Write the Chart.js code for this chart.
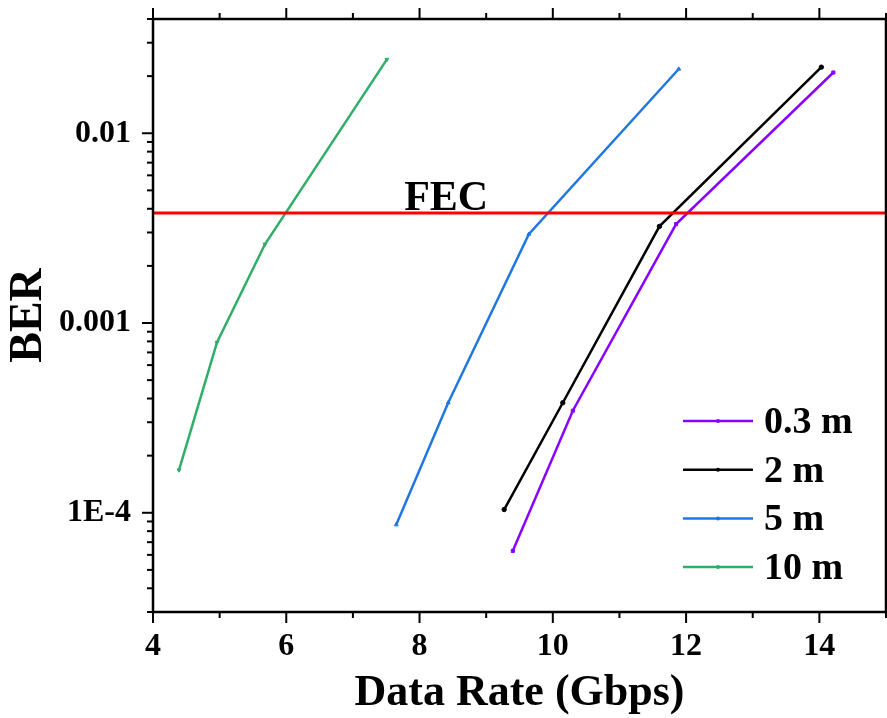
<!DOCTYPE html>
<html>
<head>
<meta charset="utf-8">
<script src="https://cdn.jsdelivr.net/npm/chart.js@4.4.1/dist/chart.umd.min.js"></script>
<style>
  html, body { margin: 0; padding: 0; background: #ffffff; }
  #wrap { width: 887px; height: 718px; position: relative; }
</style>
</head>
<body>
<div id="wrap"><canvas id="ber"></canvas></div>
<script>
// Link lengths shown in the legend
const distances = ['0.3 m', '2 m', '5 m', '10 m'];

// Data rate (Gbps) and measured BER per link length
const rate_03m = [9.40, 10.30, 11.85, 14.21];
const ber_03m  = [6.3e-5, 3.45e-4, 3.32e-3, 2.09e-2];

const rate_2m  = [9.27, 10.15, 11.60, 14.03];
const ber_2m   = [1.04e-4, 3.8e-4, 3.23e-3, 2.23e-2];

const rate_5m  = [7.65, 8.43, 9.64, 11.89];
const ber_5m   = [8.65e-5, 3.8e-4, 2.94e-3, 2.18e-2];

const rate_10m = [4.39, 4.96, 5.68, 7.51];
const ber_10m  = [1.68e-4, 7.9e-4, 2.6e-3, 2.45e-2];

// Forward error correction threshold
const fecLimit = 3.8e-3;
const fecText = 'FEC';

// Axis ticks
const xTickValues = [4, 6, 8, 10, 12, 14];
const yTickValues = [1e-4, 1e-3, 1e-2];
const yTickLabels = ['1E-4', '0.001', '0.01'];

const SERIF = "'Liberation Serif', 'Times New Roman', serif";
const colors = ['#8a00ff', '#000000', '#1f78e0', '#2fae68'];
const markers = [
  { style: 'rect', rot: 0 },
  { style: 'circle', rot: 0 },
  { style: 'triangle', rot: 0 },
  { style: 'triangle', rot: 180 }
];

function pairs(xs, ys) { return xs.map((x, i) => ({ x: x, y: ys[i] })); }

const seriesData = [
  pairs(rate_03m, ber_03m),
  pairs(rate_2m, ber_2m),
  pairs(rate_5m, ber_5m),
  pairs(rate_10m, ber_10m)
];

const datasets = seriesData.map((d, i) => ({
  label: distances[i],
  data: d,
  borderColor: colors[i],
  backgroundColor: colors[i],
  borderWidth: 2.5,
  pointStyle: markers[i].style,
  pointRotation: markers[i].rot,
  pointRadius: 2.2,
  pointBorderWidth: 1,
  tension: 0,
  order: 1
}));

// FEC threshold across the full rate range
datasets.push({
  label: fecText,
  isThreshold: true,
  data: [{ x: 4, y: fecLimit }, { x: 15, y: fecLimit }],
  borderColor: '#ff0000',
  borderWidth: 3,
  pointRadius: 0,
  order: 0
});

// Frame, outward tick marks, FEC label and legend
const framePlugin = {
  id: 'frame',
  afterDraw(chart) {
    const { ctx, chartArea: a, scales: { x, y } } = chart;
    ctx.save();
    ctx.strokeStyle = '#000';
    ctx.lineWidth = 2.5;
    ctx.strokeRect(a.left, a.top, a.right - a.left, a.bottom - a.top);

    ctx.lineWidth = 2;
    const MAJ = 11, MIN = 6;
    // x ticks: bottom and top, majors at labelled values, minors between
    for (let v = x.min; v <= x.max; v += 1) {
      const px = x.getPixelForValue(v);
      const len = xTickValues.includes(v) ? MAJ : MIN;
      ctx.beginPath();
      ctx.moveTo(px, a.bottom); ctx.lineTo(px, a.bottom + len);
      ctx.moveTo(px, a.top); ctx.lineTo(px, a.top - len);
      ctx.stroke();
    }
    // y ticks on the left: decades plus 2..9 subdivisions
    const lo = Math.floor(Math.log10(y.min)), hi = Math.ceil(Math.log10(y.max));
    for (let e = lo; e <= hi; e++) {
      for (let m = 1; m <= 9; m++) {
        const v = m * Math.pow(10, e);
        if (v < y.min * 0.999 || v > y.max * 1.001) continue;
        const py = y.getPixelForValue(v);
        const len = m === 1 ? MAJ : MIN;
        ctx.beginPath();
        ctx.moveTo(a.left, py); ctx.lineTo(a.left - len, py);
        ctx.stroke();
      }
    }

    // FEC label above the threshold line
    const fy = y.getPixelForValue(fecLimit);
    ctx.fillStyle = '#000';
    ctx.font = 'bold 42px ' + SERIF;
    ctx.textAlign = 'center';
    ctx.textBaseline = 'alphabetic';
    ctx.fillText(fecText, x.getPixelForValue(8.4), fy - 3);

    // Legend inside the lower right corner
    const lineStart = a.right - 203, lineEnd = a.right - 133, textX = a.right - 122;
    const firstRow = a.bottom - 191, step = 48.7;
    ctx.font = 'bold 38px ' + SERIF;
    ctx.textAlign = 'left';
    chart.data.datasets.filter(ds => !ds.isThreshold).forEach((ds, i) => {
      const ry = firstRow + i * step;
      ctx.strokeStyle = ds.borderColor;
      ctx.lineWidth = 2.5;
      ctx.beginPath();
      ctx.moveTo(lineStart, ry); ctx.lineTo(lineEnd, ry);
      ctx.stroke();
      ctx.fillStyle = ds.borderColor;
      ctx.beginPath();
      ctx.arc((lineStart + lineEnd) / 2, ry, 2, 0, Math.PI * 2);
      ctx.fill();
      ctx.fillStyle = '#000';
      ctx.fillText(ds.label, textX, ry + 12);
    });
    ctx.restore();
  }
};

new Chart(document.getElementById('ber'), {
  type: 'line',
  data: { datasets: datasets },
  plugins: [framePlugin],
  options: {
    responsive: true,
    maintainAspectRatio: false,
    animation: false,
    layout: { autoPadding: false, padding: { top: 19, right: 1, left: 0, bottom: 0 } },
    plugins: {
      legend: { display: false },
      tooltip: { enabled: false }
    },
    scales: {
      x: {
        type: 'linear',
        min: 4,
        max: 15,
        afterBuildTicks: s => { s.ticks = xTickValues.map(v => ({ value: v })); },
        afterFit: s => { s.height = 106; s.paddingLeft = 0; s.paddingRight = 0; },
        grid: { display: false, drawTicks: false },
        border: { display: false },
        ticks: {
          padding: 16,
          color: '#000',
          maxRotation: 0,
          autoSkip: false,
          font: { family: SERIF, size: 32, weight: 'bold' }
        },
        title: {
          display: true,
          text: 'Data Rate (Gbps)',
          color: '#000',
          padding: { top: 0, bottom: 0 },
          font: { family: SERIF, size: 44, weight: 'bold', lineHeight: 1.1 }
        }
      },
      y: {
        type: 'logarithmic',
        min: 3e-5,
        max: 0.04,
        afterBuildTicks: s => { s.ticks = yTickValues.map(v => ({ value: v })); },
        afterFit: s => { s.width = 153; s.paddingTop = 0; s.paddingBottom = 0; },
        grid: { display: false, drawTicks: false },
        border: { display: false },
        ticks: {
          padding: 22,
          color: '#000',
          autoSkip: false,
          font: { family: SERIF, size: 32, weight: 'bold' },
          callback: (v) => {
            const k = yTickValues.findIndex(t => Math.abs(t - v) / t < 1e-6);
            return k >= 0 ? yTickLabels[k] : '';
          }
        },
        title: {
          display: true,
          text: 'BER',
          color: '#000',
          padding: { top: 2, bottom: 0 },
          font: { family: SERIF, size: 46, weight: 'bold', lineHeight: 1.2 }
        }
      }
    }
  }
});
</script>
</body>
</html>
